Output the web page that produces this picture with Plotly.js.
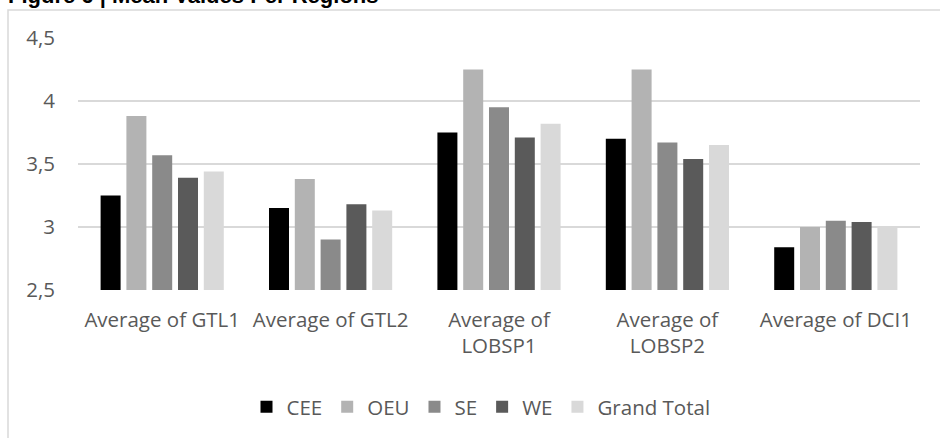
<!DOCTYPE html>
<html>
<head>
<meta charset="utf-8">
<script src="https://cdn.plot.ly/plotly-3.0.1.min.js"></script>
<style>html,body{margin:0;padding:0;background:#fff;}#chart{width:940px;height:438px;}</style>
</head>
<body>
<div id="chart"></div>
<script>
const categories = ["Average of GTL1", "Average of GTL2", "Average of<br>LOBSP1", "Average of<br>LOBSP2", "Average of DCI1"];
const seriesNames = ["CEE", "OEU", "SE", "WE", "Grand Total"];
const CEE = [3.25, 3.15, 3.75, 3.70, 2.84];
const OEU = [3.88, 3.38, 4.25, 4.25, 3.00];
const SE = [3.57, 2.90, 3.95, 3.67, 3.05];
const WE = [3.39, 3.18, 3.71, 3.54, 3.04];
const GrandTotal = [3.44, 3.13, 3.82, 3.65, 3.00];
const yTicks = [2.5, 3, 3.5, 4, 4.5];

const seriesValues = [CEE, OEU, SE, WE, GrandTotal];
const colors = ["#000000", "#b3b3b3", "#8a8a8a", "#5a5a5a", "#d9d9d9"];
const font = "'Open Sans', 'Noto Sans', sans-serif";
const fs = 20.5;

const W = 940, H = 438, L = 78, R = 20, T = 38, B = 147;
const pw = W - L - R, ph = H - T - B;
const px = v => (v - L) / pw;
const py = v => (H - B - v) / ph;

const traces = seriesNames.map((name, i) => ({
  type: "bar",
  name: name,
  x: categories,
  y: seriesValues[i],
  marker: {color: colors[i], line: {width: 0}},
  hoverinfo: "x+y+name"
}));

const layout = {
  width: W, height: H,
  margin: {l: L, r: R, t: T, b: B, pad: 0},
  paper_bgcolor: "#ffffff",
  plot_bgcolor: "#ffffff",
  separators: ",.",
  barmode: "group",
  bargap: 0.234,
  bargroupgap: 0.225,
  font: {family: font, size: fs, color: "#595959"},
  xaxis: {
    showgrid: false, showline: false, zeroline: false, ticks: "",
    tickfont: {family: font, size: fs, color: "#595959"},
    ticklabelstandoff: 15,
    fixedrange: true
  },
  yaxis: {
    range: [2.5, 4.5],
    tickvals: yTicks,
    showgrid: true, gridcolor: "#d9d9d9", gridwidth: 1.5,
    showline: false, zeroline: false, ticks: "",
    tickfont: {family: font, size: fs, color: "#595959"},
    ticklabelstandoff: 22,
    fixedrange: true
  },
  showlegend: true,
  legend: {
    orientation: "h",
    x: px(481), xanchor: "center",
    y: py(407), yanchor: "middle",
    font: {family: font, size: fs, color: "#595959"},
    traceorder: "normal",
    itemwidth: 30,
    bgcolor: "rgba(0,0,0,0)"
  },
  shapes: [{
    type: "rect", xref: "paper", yref: "paper",
    x0: px(8), x1: px(960), y0: py(10), y1: py(460),
    line: {color: "#d9d9d9", width: 1.5}, fillcolor: "rgba(0,0,0,0)", layer: "below"
  }],
  annotations: [{
    text: "<b>Figure 6 | Mean Values Per Regions</b>",
    xref: "paper", yref: "paper",
    x: px(6), xanchor: "left",
    y: py(10), yanchor: "bottom",
    showarrow: false,
    font: {family: "'Liberation Sans', Arial, sans-serif", size: 22, color: "#000000"}
  }]
};

Plotly.newPlot("chart", traces, layout, {displayModeBar: false, staticPlot: true});
</script>
</body>
</html>
